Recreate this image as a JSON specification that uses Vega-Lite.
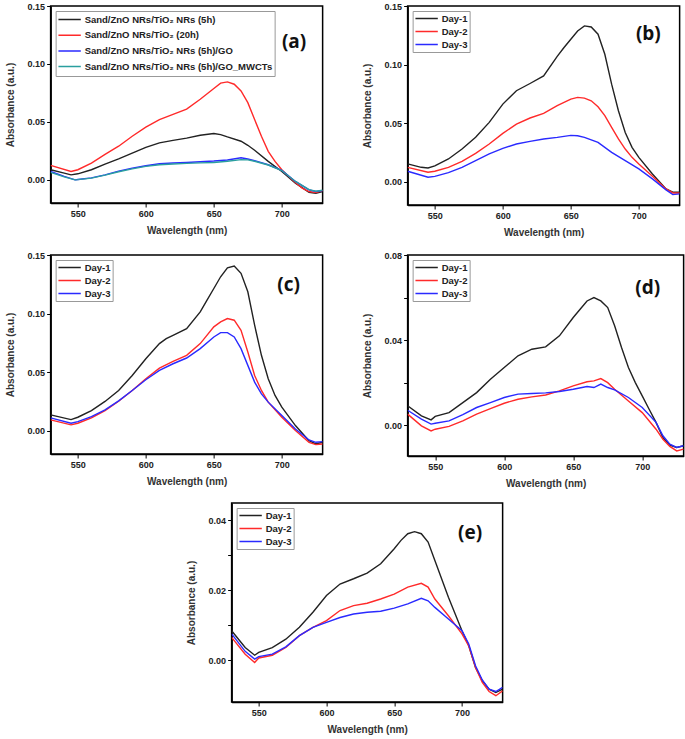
{
  "$schema": "https://vega.github.io/schema/vega-lite/v6.json",
  "padding": {"left": 3.5, "top": 1, "right": 0, "bottom": 0},
  "background": "white",
  "config": {
    "view": {"stroke": "black", "strokeWidth": 1.5},
    "axis": {"grid": false, "domainColor": "black", "domainWidth": 1.5, "tickColor": "black", "tickSize": 4, "labelPadding": 2, "labelFont": "Liberation Sans", "labelFontWeight": "bold", "labelFontSize": 9, "labelColor": "#222", "titleFont": "Liberation Sans", "titleFontWeight": "bold", "titleFontSize": 10, "titleColor": "#333", "labelOverlap": false},
    "axisX": {"titlePadding": 7},
    "axisY": {"titlePadding": 12},
    "legend": {"orient": "top-left", "offset": 5, "strokeColor": "#999", "fillColor": "white", "padding": 2, "labelFont": "Liberation Sans", "labelFontWeight": "bold", "labelColor": "#222", "labelLimit": 400, "symbolType": "stroke", "symbolSize": 500, "symbolStrokeWidth": 1.5, "labelOffset": 3}
  },
  "datasets": {
    "a": [
      {"w":530,"v":0.0087,"s":"Sand/ZnO NRs/TiO₂ NRs (5h)"},{"w":540,"v":0.0058,"s":"Sand/ZnO NRs/TiO₂ NRs (5h)"},{"w":545,"v":0.0043,"s":"Sand/ZnO NRs/TiO₂ NRs (5h)"},{"w":550,"v":0.0052,"s":"Sand/ZnO NRs/TiO₂ NRs (5h)"},{"w":560,"v":0.0087,"s":"Sand/ZnO NRs/TiO₂ NRs (5h)"},{"w":570,"v":0.0136,"s":"Sand/ZnO NRs/TiO₂ NRs (5h)"},{"w":580,"v":0.018,"s":"Sand/ZnO NRs/TiO₂ NRs (5h)"},{"w":590,"v":0.023,"s":"Sand/ZnO NRs/TiO₂ NRs (5h)"},{"w":600,"v":0.028,"s":"Sand/ZnO NRs/TiO₂ NRs (5h)"},{"w":610,"v":0.0319,"s":"Sand/ZnO NRs/TiO₂ NRs (5h)"},{"w":620,"v":0.034,"s":"Sand/ZnO NRs/TiO₂ NRs (5h)"},{"w":630,"v":0.036,"s":"Sand/ZnO NRs/TiO₂ NRs (5h)"},{"w":640,"v":0.0385,"s":"Sand/ZnO NRs/TiO₂ NRs (5h)"},{"w":650,"v":0.04,"s":"Sand/ZnO NRs/TiO₂ NRs (5h)"},{"w":655,"v":0.039,"s":"Sand/ZnO NRs/TiO₂ NRs (5h)"},{"w":660,"v":0.037,"s":"Sand/ZnO NRs/TiO₂ NRs (5h)"},{"w":670,"v":0.0333,"s":"Sand/ZnO NRs/TiO₂ NRs (5h)"},{"w":675,"v":0.0298,"s":"Sand/ZnO NRs/TiO₂ NRs (5h)"},{"w":680,"v":0.0255,"s":"Sand/ZnO NRs/TiO₂ NRs (5h)"},{"w":690,"v":0.0159,"s":"Sand/ZnO NRs/TiO₂ NRs (5h)"},{"w":700,"v":0.0072,"s":"Sand/ZnO NRs/TiO₂ NRs (5h)"},{"w":710,"v":-0.0029,"s":"Sand/ZnO NRs/TiO₂ NRs (5h)"},{"w":720,"v":-0.0107,"s":"Sand/ZnO NRs/TiO₂ NRs (5h)"},{"w":725,"v":-0.0116,"s":"Sand/ZnO NRs/TiO₂ NRs (5h)"},{"w":730,"v":-0.0101,"s":"Sand/ZnO NRs/TiO₂ NRs (5h)"},
      {"w":530,"v":0.0125,"s":"Sand/ZnO NRs/TiO₂ (20h)"},{"w":545,"v":0.0072,"s":"Sand/ZnO NRs/TiO₂ (20h)"},{"w":550,"v":0.0087,"s":"Sand/ZnO NRs/TiO₂ (20h)"},{"w":560,"v":0.0145,"s":"Sand/ZnO NRs/TiO₂ (20h)"},{"w":570,"v":0.022,"s":"Sand/ZnO NRs/TiO₂ (20h)"},{"w":580,"v":0.029,"s":"Sand/ZnO NRs/TiO₂ (20h)"},{"w":590,"v":0.0376,"s":"Sand/ZnO NRs/TiO₂ (20h)"},{"w":600,"v":0.0455,"s":"Sand/ZnO NRs/TiO₂ (20h)"},{"w":610,"v":0.052,"s":"Sand/ZnO NRs/TiO₂ (20h)"},{"w":620,"v":0.0565,"s":"Sand/ZnO NRs/TiO₂ (20h)"},{"w":630,"v":0.061,"s":"Sand/ZnO NRs/TiO₂ (20h)"},{"w":640,"v":0.0695,"s":"Sand/ZnO NRs/TiO₂ (20h)"},{"w":650,"v":0.0788,"s":"Sand/ZnO NRs/TiO₂ (20h)"},{"w":655,"v":0.0834,"s":"Sand/ZnO NRs/TiO₂ (20h)"},{"w":660,"v":0.0845,"s":"Sand/ZnO NRs/TiO₂ (20h)"},{"w":665,"v":0.0825,"s":"Sand/ZnO NRs/TiO₂ (20h)"},{"w":670,"v":0.0767,"s":"Sand/ZnO NRs/TiO₂ (20h)"},{"w":675,"v":0.0666,"s":"Sand/ZnO NRs/TiO₂ (20h)"},{"w":680,"v":0.052,"s":"Sand/ZnO NRs/TiO₂ (20h)"},{"w":685,"v":0.0376,"s":"Sand/ZnO NRs/TiO₂ (20h)"},{"w":690,"v":0.0246,"s":"Sand/ZnO NRs/TiO₂ (20h)"},{"w":695,"v":0.0159,"s":"Sand/ZnO NRs/TiO₂ (20h)"},{"w":700,"v":0.0087,"s":"Sand/ZnO NRs/TiO₂ (20h)"},{"w":705,"v":0.003,"s":"Sand/ZnO NRs/TiO₂ (20h)"},{"w":710,"v":-0.0023,"s":"Sand/ZnO NRs/TiO₂ (20h)"},{"w":715,"v":-0.0072,"s":"Sand/ZnO NRs/TiO₂ (20h)"},{"w":720,"v":-0.0101,"s":"Sand/ZnO NRs/TiO₂ (20h)"},{"w":725,"v":-0.011,"s":"Sand/ZnO NRs/TiO₂ (20h)"},{"w":730,"v":-0.0093,"s":"Sand/ZnO NRs/TiO₂ (20h)"},
      {"w":530,"v":0.0072,"s":"Sand/ZnO NRs/TiO₂ NRs (5h)/GO"},{"w":540,"v":0.003,"s":"Sand/ZnO NRs/TiO₂ NRs (5h)/GO"},{"w":548,"v":0.0,"s":"Sand/ZnO NRs/TiO₂ NRs (5h)/GO"},{"w":550,"v":0.0003,"s":"Sand/ZnO NRs/TiO₂ NRs (5h)/GO"},{"w":560,"v":0.0017,"s":"Sand/ZnO NRs/TiO₂ NRs (5h)/GO"},{"w":570,"v":0.0043,"s":"Sand/ZnO NRs/TiO₂ NRs (5h)/GO"},{"w":580,"v":0.0075,"s":"Sand/ZnO NRs/TiO₂ NRs (5h)/GO"},{"w":590,"v":0.0101,"s":"Sand/ZnO NRs/TiO₂ NRs (5h)/GO"},{"w":600,"v":0.0122,"s":"Sand/ZnO NRs/TiO₂ NRs (5h)/GO"},{"w":610,"v":0.0139,"s":"Sand/ZnO NRs/TiO₂ NRs (5h)/GO"},{"w":620,"v":0.0145,"s":"Sand/ZnO NRs/TiO₂ NRs (5h)/GO"},{"w":630,"v":0.015,"s":"Sand/ZnO NRs/TiO₂ NRs (5h)/GO"},{"w":640,"v":0.0156,"s":"Sand/ZnO NRs/TiO₂ NRs (5h)/GO"},{"w":650,"v":0.0162,"s":"Sand/ZnO NRs/TiO₂ NRs (5h)/GO"},{"w":660,"v":0.0171,"s":"Sand/ZnO NRs/TiO₂ NRs (5h)/GO"},{"w":670,"v":0.019,"s":"Sand/ZnO NRs/TiO₂ NRs (5h)/GO"},{"w":675,"v":0.018,"s":"Sand/ZnO NRs/TiO₂ NRs (5h)/GO"},{"w":680,"v":0.0165,"s":"Sand/ZnO NRs/TiO₂ NRs (5h)/GO"},{"w":690,"v":0.013,"s":"Sand/ZnO NRs/TiO₂ NRs (5h)/GO"},{"w":700,"v":0.0081,"s":"Sand/ZnO NRs/TiO₂ NRs (5h)/GO"},{"w":710,"v":-0.0014,"s":"Sand/ZnO NRs/TiO₂ NRs (5h)/GO"},{"w":720,"v":-0.0087,"s":"Sand/ZnO NRs/TiO₂ NRs (5h)/GO"},{"w":725,"v":-0.0101,"s":"Sand/ZnO NRs/TiO₂ NRs (5h)/GO"},{"w":730,"v":-0.0093,"s":"Sand/ZnO NRs/TiO₂ NRs (5h)/GO"},
      {"w":530,"v":0.0064,"s":"Sand/ZnO NRs/TiO₂ NRs (5h)/GO_MWCTs"},{"w":540,"v":0.0025,"s":"Sand/ZnO NRs/TiO₂ NRs (5h)/GO_MWCTs"},{"w":548,"v":0.0,"s":"Sand/ZnO NRs/TiO₂ NRs (5h)/GO_MWCTs"},{"w":550,"v":0.0002,"s":"Sand/ZnO NRs/TiO₂ NRs (5h)/GO_MWCTs"},{"w":560,"v":0.0015,"s":"Sand/ZnO NRs/TiO₂ NRs (5h)/GO_MWCTs"},{"w":570,"v":0.004,"s":"Sand/ZnO NRs/TiO₂ NRs (5h)/GO_MWCTs"},{"w":580,"v":0.007,"s":"Sand/ZnO NRs/TiO₂ NRs (5h)/GO_MWCTs"},{"w":590,"v":0.0095,"s":"Sand/ZnO NRs/TiO₂ NRs (5h)/GO_MWCTs"},{"w":600,"v":0.0116,"s":"Sand/ZnO NRs/TiO₂ NRs (5h)/GO_MWCTs"},{"w":610,"v":0.013,"s":"Sand/ZnO NRs/TiO₂ NRs (5h)/GO_MWCTs"},{"w":620,"v":0.0137,"s":"Sand/ZnO NRs/TiO₂ NRs (5h)/GO_MWCTs"},{"w":630,"v":0.0142,"s":"Sand/ZnO NRs/TiO₂ NRs (5h)/GO_MWCTs"},{"w":640,"v":0.0146,"s":"Sand/ZnO NRs/TiO₂ NRs (5h)/GO_MWCTs"},{"w":650,"v":0.015,"s":"Sand/ZnO NRs/TiO₂ NRs (5h)/GO_MWCTs"},{"w":660,"v":0.016,"s":"Sand/ZnO NRs/TiO₂ NRs (5h)/GO_MWCTs"},{"w":670,"v":0.0174,"s":"Sand/ZnO NRs/TiO₂ NRs (5h)/GO_MWCTs"},{"w":675,"v":0.0172,"s":"Sand/ZnO NRs/TiO₂ NRs (5h)/GO_MWCTs"},{"w":680,"v":0.016,"s":"Sand/ZnO NRs/TiO₂ NRs (5h)/GO_MWCTs"},{"w":690,"v":0.0128,"s":"Sand/ZnO NRs/TiO₂ NRs (5h)/GO_MWCTs"},{"w":700,"v":0.008,"s":"Sand/ZnO NRs/TiO₂ NRs (5h)/GO_MWCTs"},{"w":710,"v":-0.0014,"s":"Sand/ZnO NRs/TiO₂ NRs (5h)/GO_MWCTs"},{"w":720,"v":-0.0085,"s":"Sand/ZnO NRs/TiO₂ NRs (5h)/GO_MWCTs"},{"w":725,"v":-0.0098,"s":"Sand/ZnO NRs/TiO₂ NRs (5h)/GO_MWCTs"},{"w":730,"v":-0.009,"s":"Sand/ZnO NRs/TiO₂ NRs (5h)/GO_MWCTs"}
    ],
    "b": [
      {"w":530,"v":0.0151,"s":"Day-1"},{"w":540,"v":0.0122,"s":"Day-1"},{"w":545,"v":0.0116,"s":"Day-1"},{"w":550,"v":0.0134,"s":"Day-1"},{"w":560,"v":0.0193,"s":"Day-1"},{"w":570,"v":0.0278,"s":"Day-1"},{"w":580,"v":0.0378,"s":"Day-1"},{"w":590,"v":0.0506,"s":"Day-1"},{"w":600,"v":0.0662,"s":"Day-1"},{"w":610,"v":0.0776,"s":"Day-1"},{"w":620,"v":0.0838,"s":"Day-1"},{"w":630,"v":0.0903,"s":"Day-1"},{"w":640,"v":0.107,"s":"Day-1"},{"w":645,"v":0.1145,"s":"Day-1"},{"w":650,"v":0.1216,"s":"Day-1"},{"w":655,"v":0.1287,"s":"Day-1"},{"w":660,"v":0.133,"s":"Day-1"},{"w":665,"v":0.1321,"s":"Day-1"},{"w":670,"v":0.1259,"s":"Day-1"},{"w":675,"v":0.1088,"s":"Day-1"},{"w":680,"v":0.0832,"s":"Day-1"},{"w":685,"v":0.0605,"s":"Day-1"},{"w":690,"v":0.042,"s":"Day-1"},{"w":695,"v":0.0293,"s":"Day-1"},{"w":700,"v":0.0207,"s":"Day-1"},{"w":710,"v":0.0065,"s":"Day-1"},{"w":720,"v":-0.0063,"s":"Day-1"},{"w":725,"v":-0.0091,"s":"Day-1"},{"w":730,"v":-0.0091,"s":"Day-1"},
      {"w":530,"v":0.0122,"s":"Day-2"},{"w":545,"v":0.008,"s":"Day-2"},{"w":550,"v":0.0088,"s":"Day-2"},{"w":560,"v":0.0122,"s":"Day-2"},{"w":570,"v":0.0173,"s":"Day-2"},{"w":580,"v":0.0241,"s":"Day-2"},{"w":590,"v":0.0321,"s":"Day-2"},{"w":600,"v":0.0412,"s":"Day-2"},{"w":610,"v":0.0491,"s":"Day-2"},{"w":620,"v":0.0543,"s":"Day-2"},{"w":630,"v":0.0582,"s":"Day-2"},{"w":640,"v":0.0648,"s":"Day-2"},{"w":650,"v":0.0705,"s":"Day-2"},{"w":655,"v":0.0719,"s":"Day-2"},{"w":660,"v":0.0713,"s":"Day-2"},{"w":665,"v":0.069,"s":"Day-2"},{"w":670,"v":0.0639,"s":"Day-2"},{"w":675,"v":0.0563,"s":"Day-2"},{"w":680,"v":0.0463,"s":"Day-2"},{"w":685,"v":0.0364,"s":"Day-2"},{"w":690,"v":0.0278,"s":"Day-2"},{"w":695,"v":0.0207,"s":"Day-2"},{"w":700,"v":0.0151,"s":"Day-2"},{"w":710,"v":0.0045,"s":"Day-2"},{"w":720,"v":-0.0063,"s":"Day-2"},{"w":725,"v":-0.0097,"s":"Day-2"},{"w":730,"v":-0.0097,"s":"Day-2"},
      {"w":530,"v":0.0088,"s":"Day-3"},{"w":545,"v":0.0037,"s":"Day-3"},{"w":550,"v":0.0045,"s":"Day-3"},{"w":560,"v":0.0077,"s":"Day-3"},{"w":570,"v":0.0122,"s":"Day-3"},{"w":580,"v":0.0179,"s":"Day-3"},{"w":590,"v":0.0236,"s":"Day-3"},{"w":600,"v":0.0284,"s":"Day-3"},{"w":610,"v":0.0321,"s":"Day-3"},{"w":620,"v":0.0344,"s":"Day-3"},{"w":630,"v":0.0364,"s":"Day-3"},{"w":640,"v":0.0378,"s":"Day-3"},{"w":650,"v":0.0395,"s":"Day-3"},{"w":655,"v":0.0392,"s":"Day-3"},{"w":660,"v":0.0378,"s":"Day-3"},{"w":670,"v":0.0335,"s":"Day-3"},{"w":680,"v":0.025,"s":"Day-3"},{"w":690,"v":0.0179,"s":"Day-3"},{"w":700,"v":0.0108,"s":"Day-3"},{"w":710,"v":0.0023,"s":"Day-3"},{"w":720,"v":-0.0071,"s":"Day-3"},{"w":725,"v":-0.0111,"s":"Day-3"},{"w":730,"v":-0.0105,"s":"Day-3"}
    ],
    "c": [
      {"w":530,"v":0.0134,"s":"Day-1"},{"w":545,"v":0.0094,"s":"Day-1"},{"w":550,"v":0.0114,"s":"Day-1"},{"w":560,"v":0.0171,"s":"Day-1"},{"w":570,"v":0.0249,"s":"Day-1"},{"w":580,"v":0.0343,"s":"Day-1"},{"w":590,"v":0.0471,"s":"Day-1"},{"w":600,"v":0.0614,"s":"Day-1"},{"w":610,"v":0.0743,"s":"Day-1"},{"w":615,"v":0.0786,"s":"Day-1"},{"w":620,"v":0.0814,"s":"Day-1"},{"w":630,"v":0.0871,"s":"Day-1"},{"w":640,"v":0.1014,"s":"Day-1"},{"w":645,"v":0.1114,"s":"Day-1"},{"w":650,"v":0.1214,"s":"Day-1"},{"w":655,"v":0.1314,"s":"Day-1"},{"w":660,"v":0.1391,"s":"Day-1"},{"w":665,"v":0.1406,"s":"Day-1"},{"w":670,"v":0.1343,"s":"Day-1"},{"w":675,"v":0.1186,"s":"Day-1"},{"w":680,"v":0.09,"s":"Day-1"},{"w":685,"v":0.0643,"s":"Day-1"},{"w":690,"v":0.0443,"s":"Day-1"},{"w":695,"v":0.03,"s":"Day-1"},{"w":700,"v":0.02,"s":"Day-1"},{"w":710,"v":0.0043,"s":"Day-1"},{"w":720,"v":-0.0086,"s":"Day-1"},{"w":725,"v":-0.0114,"s":"Day-1"},{"w":730,"v":-0.01,"s":"Day-1"},
      {"w":530,"v":0.0091,"s":"Day-2"},{"w":545,"v":0.0049,"s":"Day-2"},{"w":550,"v":0.0063,"s":"Day-2"},{"w":560,"v":0.0109,"s":"Day-2"},{"w":570,"v":0.0171,"s":"Day-2"},{"w":580,"v":0.0251,"s":"Day-2"},{"w":590,"v":0.0343,"s":"Day-2"},{"w":600,"v":0.0443,"s":"Day-2"},{"w":610,"v":0.0534,"s":"Day-2"},{"w":620,"v":0.0591,"s":"Day-2"},{"w":630,"v":0.0643,"s":"Day-2"},{"w":640,"v":0.0743,"s":"Day-2"},{"w":650,"v":0.0886,"s":"Day-2"},{"w":655,"v":0.0929,"s":"Day-2"},{"w":660,"v":0.0957,"s":"Day-2"},{"w":665,"v":0.0943,"s":"Day-2"},{"w":670,"v":0.0857,"s":"Day-2"},{"w":675,"v":0.0671,"s":"Day-2"},{"w":680,"v":0.0471,"s":"Day-2"},{"w":685,"v":0.0343,"s":"Day-2"},{"w":690,"v":0.0243,"s":"Day-2"},{"w":700,"v":0.0114,"s":"Day-2"},{"w":710,"v":0.0,"s":"Day-2"},{"w":720,"v":-0.01,"s":"Day-2"},{"w":725,"v":-0.012,"s":"Day-2"},{"w":730,"v":-0.0114,"s":"Day-2"},
      {"w":530,"v":0.0109,"s":"Day-3"},{"w":545,"v":0.0063,"s":"Day-3"},{"w":550,"v":0.0077,"s":"Day-3"},{"w":560,"v":0.012,"s":"Day-3"},{"w":570,"v":0.0177,"s":"Day-3"},{"w":580,"v":0.0254,"s":"Day-3"},{"w":590,"v":0.0343,"s":"Day-3"},{"w":600,"v":0.0434,"s":"Day-3"},{"w":610,"v":0.0514,"s":"Day-3"},{"w":620,"v":0.0571,"s":"Day-3"},{"w":630,"v":0.062,"s":"Day-3"},{"w":640,"v":0.07,"s":"Day-3"},{"w":650,"v":0.08,"s":"Day-3"},{"w":655,"v":0.0837,"s":"Day-3"},{"w":660,"v":0.0837,"s":"Day-3"},{"w":665,"v":0.08,"s":"Day-3"},{"w":670,"v":0.07,"s":"Day-3"},{"w":675,"v":0.0557,"s":"Day-3"},{"w":680,"v":0.0414,"s":"Day-3"},{"w":685,"v":0.0314,"s":"Day-3"},{"w":690,"v":0.0243,"s":"Day-3"},{"w":700,"v":0.0129,"s":"Day-3"},{"w":710,"v":0.0014,"s":"Day-3"},{"w":720,"v":-0.008,"s":"Day-3"},{"w":725,"v":-0.01,"s":"Day-3"},{"w":730,"v":-0.0094,"s":"Day-3"}
    ],
    "d": [
      {"w":530,"v":0.0091,"s":"Day-1"},{"w":540,"v":0.0044,"s":"Day-1"},{"w":547,"v":0.0025,"s":"Day-1"},{"w":550,"v":0.0041,"s":"Day-1"},{"w":560,"v":0.0059,"s":"Day-1"},{"w":570,"v":0.0106,"s":"Day-1"},{"w":580,"v":0.0153,"s":"Day-1"},{"w":590,"v":0.0216,"s":"Day-1"},{"w":600,"v":0.0271,"s":"Day-1"},{"w":610,"v":0.0326,"s":"Day-1"},{"w":620,"v":0.0357,"s":"Day-1"},{"w":630,"v":0.0368,"s":"Day-1"},{"w":640,"v":0.042,"s":"Day-1"},{"w":650,"v":0.0506,"s":"Day-1"},{"w":655,"v":0.0545,"s":"Day-1"},{"w":660,"v":0.0584,"s":"Day-1"},{"w":665,"v":0.06,"s":"Day-1"},{"w":670,"v":0.0584,"s":"Day-1"},{"w":675,"v":0.0553,"s":"Day-1"},{"w":680,"v":0.0467,"s":"Day-1"},{"w":685,"v":0.0365,"s":"Day-1"},{"w":690,"v":0.0271,"s":"Day-1"},{"w":695,"v":0.02,"s":"Day-1"},{"w":700,"v":0.0138,"s":"Day-1"},{"w":705,"v":0.0075,"s":"Day-1"},{"w":710,"v":0.0013,"s":"Day-1"},{"w":715,"v":-0.0058,"s":"Day-1"},{"w":720,"v":-0.0094,"s":"Day-1"},{"w":725,"v":-0.0105,"s":"Day-1"},{"w":730,"v":-0.0097,"s":"Day-1"},
      {"w":530,"v":0.0052,"s":"Day-2"},{"w":540,"v":-0.0003,"s":"Day-2"},{"w":547,"v":-0.0027,"s":"Day-2"},{"w":550,"v":-0.0019,"s":"Day-2"},{"w":560,"v":-0.0006,"s":"Day-2"},{"w":570,"v":0.002,"s":"Day-2"},{"w":580,"v":0.0052,"s":"Day-2"},{"w":590,"v":0.0078,"s":"Day-2"},{"w":600,"v":0.0103,"s":"Day-2"},{"w":610,"v":0.0122,"s":"Day-2"},{"w":620,"v":0.0133,"s":"Day-2"},{"w":630,"v":0.0142,"s":"Day-2"},{"w":640,"v":0.0161,"s":"Day-2"},{"w":650,"v":0.0185,"s":"Day-2"},{"w":660,"v":0.0204,"s":"Day-2"},{"w":665,"v":0.0208,"s":"Day-2"},{"w":670,"v":0.0219,"s":"Day-2"},{"w":675,"v":0.02,"s":"Day-2"},{"w":680,"v":0.0169,"s":"Day-2"},{"w":690,"v":0.0114,"s":"Day-2"},{"w":700,"v":0.0059,"s":"Day-2"},{"w":710,"v":-0.0019,"s":"Day-2"},{"w":715,"v":-0.0066,"s":"Day-2"},{"w":720,"v":-0.01,"s":"Day-2"},{"w":725,"v":-0.0121,"s":"Day-2"},{"w":730,"v":-0.0113,"s":"Day-2"},
      {"w":530,"v":0.007,"s":"Day-3"},{"w":540,"v":0.0028,"s":"Day-3"},{"w":547,"v":0.0005,"s":"Day-3"},{"w":550,"v":0.0009,"s":"Day-3"},{"w":560,"v":0.002,"s":"Day-3"},{"w":570,"v":0.0049,"s":"Day-3"},{"w":580,"v":0.0083,"s":"Day-3"},{"w":590,"v":0.0106,"s":"Day-3"},{"w":600,"v":0.013,"s":"Day-3"},{"w":610,"v":0.0146,"s":"Day-3"},{"w":620,"v":0.0149,"s":"Day-3"},{"w":630,"v":0.0152,"s":"Day-3"},{"w":640,"v":0.0158,"s":"Day-3"},{"w":650,"v":0.0169,"s":"Day-3"},{"w":660,"v":0.0182,"s":"Day-3"},{"w":665,"v":0.0177,"s":"Day-3"},{"w":670,"v":0.0193,"s":"Day-3"},{"w":675,"v":0.0177,"s":"Day-3"},{"w":680,"v":0.0166,"s":"Day-3"},{"w":690,"v":0.013,"s":"Day-3"},{"w":700,"v":0.0083,"s":"Day-3"},{"w":710,"v":0.0013,"s":"Day-3"},{"w":715,"v":-0.005,"s":"Day-3"},{"w":720,"v":-0.0089,"s":"Day-3"},{"w":725,"v":-0.0105,"s":"Day-3"},{"w":730,"v":-0.0097,"s":"Day-3"}
    ],
    "e": [
      {"w":530,"v":0.0084,"s":"Day-1"},{"w":540,"v":0.0036,"s":"Day-1"},{"w":547,"v":0.0014,"s":"Day-1"},{"w":550,"v":0.0022,"s":"Day-1"},{"w":560,"v":0.0036,"s":"Day-1"},{"w":570,"v":0.006,"s":"Day-1"},{"w":580,"v":0.0094,"s":"Day-1"},{"w":590,"v":0.0137,"s":"Day-1"},{"w":600,"v":0.0185,"s":"Day-1"},{"w":610,"v":0.0218,"s":"Day-1"},{"w":620,"v":0.0233,"s":"Day-1"},{"w":630,"v":0.0249,"s":"Day-1"},{"w":640,"v":0.0276,"s":"Day-1"},{"w":650,"v":0.0319,"s":"Day-1"},{"w":655,"v":0.0343,"s":"Day-1"},{"w":660,"v":0.0362,"s":"Day-1"},{"w":665,"v":0.0368,"s":"Day-1"},{"w":670,"v":0.0362,"s":"Day-1"},{"w":675,"v":0.0338,"s":"Day-1"},{"w":680,"v":0.0285,"s":"Day-1"},{"w":690,"v":0.018,"s":"Day-1"},{"w":700,"v":0.0084,"s":"Day-1"},{"w":705,"v":0.0041,"s":"Day-1"},{"w":710,"v":-0.0021,"s":"Day-1"},{"w":715,"v":-0.0059,"s":"Day-1"},{"w":720,"v":-0.0083,"s":"Day-1"},{"w":725,"v":-0.0093,"s":"Day-1"},{"w":730,"v":-0.0083,"s":"Day-1"},
      {"w":530,"v":0.0065,"s":"Day-2"},{"w":540,"v":0.0017,"s":"Day-2"},{"w":547,"v":-0.0007,"s":"Day-2"},{"w":550,"v":0.0006,"s":"Day-2"},{"w":560,"v":0.0014,"s":"Day-2"},{"w":570,"v":0.0036,"s":"Day-2"},{"w":580,"v":0.007,"s":"Day-2"},{"w":590,"v":0.0094,"s":"Day-2"},{"w":600,"v":0.0113,"s":"Day-2"},{"w":610,"v":0.0142,"s":"Day-2"},{"w":620,"v":0.0156,"s":"Day-2"},{"w":630,"v":0.0163,"s":"Day-2"},{"w":640,"v":0.0175,"s":"Day-2"},{"w":650,"v":0.0189,"s":"Day-2"},{"w":660,"v":0.0209,"s":"Day-2"},{"w":670,"v":0.022,"s":"Day-2"},{"w":675,"v":0.0209,"s":"Day-2"},{"w":680,"v":0.0175,"s":"Day-2"},{"w":690,"v":0.0127,"s":"Day-2"},{"w":700,"v":0.0075,"s":"Day-2"},{"w":705,"v":0.0041,"s":"Day-2"},{"w":710,"v":-0.0021,"s":"Day-2"},{"w":715,"v":-0.0064,"s":"Day-2"},{"w":720,"v":-0.009,"s":"Day-2"},{"w":725,"v":-0.0102,"s":"Day-2"},{"w":730,"v":-0.0088,"s":"Day-2"},
      {"w":530,"v":0.0075,"s":"Day-3"},{"w":540,"v":0.0025,"s":"Day-3"},{"w":547,"v":0.0003,"s":"Day-3"},{"w":550,"v":0.001,"s":"Day-3"},{"w":560,"v":0.0017,"s":"Day-3"},{"w":570,"v":0.0038,"s":"Day-3"},{"w":580,"v":0.007,"s":"Day-3"},{"w":590,"v":0.0094,"s":"Day-3"},{"w":600,"v":0.0108,"s":"Day-3"},{"w":610,"v":0.0122,"s":"Day-3"},{"w":620,"v":0.0132,"s":"Day-3"},{"w":630,"v":0.0137,"s":"Day-3"},{"w":640,"v":0.014,"s":"Day-3"},{"w":650,"v":0.0149,"s":"Day-3"},{"w":660,"v":0.0161,"s":"Day-3"},{"w":670,"v":0.0177,"s":"Day-3"},{"w":675,"v":0.017,"s":"Day-3"},{"w":680,"v":0.0151,"s":"Day-3"},{"w":690,"v":0.0118,"s":"Day-3"},{"w":700,"v":0.0084,"s":"Day-3"},{"w":705,"v":0.0046,"s":"Day-3"},{"w":710,"v":-0.0016,"s":"Day-3"},{"w":715,"v":-0.0057,"s":"Day-3"},{"w":720,"v":-0.0083,"s":"Day-3"},{"w":725,"v":-0.009,"s":"Day-3"},{"w":730,"v":-0.0078,"s":"Day-3"}
    ]
  },
  "vconcat": [
    {
      "vconcat": [
        {
          "hconcat": [
            {
              "width": 272, "height": 197,
              "layer": [
                {
                  "data": {"name": "a"},
                  "mark": {"type": "line", "strokeWidth": 1.4, "clip": true},
                  "encoding": {
                    "x": {"field": "w", "type": "quantitative", "scale": {"domain": [530, 730], "nice": false, "zero": false}, "axis": {"title": "Wavelength (nm)", "values": [550, 575, 600, 625, 650, 675, 700, 725], "labelExpr": "indexof(['550','600','650','700'], datum.label) >= 0 ? datum.label : ''"}},
                    "y": {"field": "v", "type": "quantitative", "scale": {"domain": [-0.02, 0.15], "nice": false, "zero": false}, "axis": {"title": "Absorbance (a.u.)", "values": [0, 0.025, 0.05, 0.075, 0.1, 0.125, 0.15], "format": ".3f", "labelExpr": "indexof(['0.000','0.050','0.100','0.150'], datum.label) >= 0 ? format(datum.value, '.2f') : ''"}},
                    "color": {"field": "s", "type": "nominal", "scale": {"domain": ["Sand/ZnO NRs/TiO₂ NRs (5h)", "Sand/ZnO NRs/TiO₂ (20h)", "Sand/ZnO NRs/TiO₂ NRs (5h)/GO", "Sand/ZnO NRs/TiO₂ NRs (5h)/GO_MWCTs"], "range": ["#222222", "#ff2a2a", "#2a2aff", "#2a9f9f"]}, "legend": {"title": null, "labelFontSize": 9.5, "clipHeight": 13, "rowPadding": 2.7}}
                  }
                },
                {
                  "data": {"values": [{"lab": "(a)"}]},
                  "mark": {"type": "text", "font": "Open Sans", "fontWeight": "bold", "fontSize": 19, "color": "#111"},
                  "encoding": {"x": {"datum": 709}, "y": {"datum": 0.119}, "text": {"field": "lab"}}
                }
              ]
            },
            {
              "width": 272, "height": 199,
              "layer": [
                {
                  "data": {"name": "b"},
                  "mark": {"type": "line", "strokeWidth": 1.4, "clip": true},
                  "encoding": {
                    "x": {"field": "w", "type": "quantitative", "scale": {"domain": [530, 730], "nice": false, "zero": false}, "axis": {"title": "Wavelength (nm)", "values": [550, 575, 600, 625, 650, 675, 700, 725], "labelExpr": "indexof(['550','600','650','700'], datum.label) >= 0 ? datum.label : ''"}},
                    "y": {"field": "v", "type": "quantitative", "scale": {"domain": [-0.02, 0.15], "nice": false, "zero": false}, "axis": {"title": "Absorbance (a.u.)", "values": [0, 0.025, 0.05, 0.075, 0.1, 0.125, 0.15], "format": ".3f", "labelExpr": "indexof(['0.000','0.050','0.100','0.150'], datum.label) >= 0 ? format(datum.value, '.2f') : ''"}},
                    "color": {"field": "s", "type": "nominal", "scale": {"domain": ["Day-1", "Day-2", "Day-3"], "range": ["#222222", "#ff2a2a", "#2a2aff"]}, "legend": {"title": null, "labelFontSize": 9.5, "clipHeight": 11, "rowPadding": 2}}
                  }
                },
                {
                  "data": {"values": [{"lab": "(b)"}]},
                  "mark": {"type": "text", "font": "Open Sans", "fontWeight": "bold", "fontSize": 19, "color": "#111"},
                  "encoding": {"x": {"datum": 707}, "y": {"datum": 0.126}, "text": {"field": "lab"}}
                }
              ]
            }
          ],
          "spacing": 37,
          "resolve": {"scale": {"color": "independent"}, "legend": {"color": "independent"}}
        },
        {
          "hconcat": [
            {
              "width": 272, "height": 199,
              "layer": [
                {
                  "data": {"name": "c"},
                  "mark": {"type": "line", "strokeWidth": 1.4, "clip": true},
                  "encoding": {
                    "x": {"field": "w", "type": "quantitative", "scale": {"domain": [530, 730], "nice": false, "zero": false}, "axis": {"title": "Wavelength (nm)", "values": [550, 575, 600, 625, 650, 675, 700, 725], "labelExpr": "indexof(['550','600','650','700'], datum.label) >= 0 ? datum.label : ''"}},
                    "y": {"field": "v", "type": "quantitative", "scale": {"domain": [-0.02, 0.15], "nice": false, "zero": false}, "axis": {"title": "Absorbance (a.u.)", "values": [0, 0.025, 0.05, 0.075, 0.1, 0.125, 0.15], "format": ".3f", "labelExpr": "indexof(['0.000','0.050','0.100','0.150'], datum.label) >= 0 ? format(datum.value, '.2f') : ''"}},
                    "color": {"field": "s", "type": "nominal", "scale": {"domain": ["Day-1", "Day-2", "Day-3"], "range": ["#222222", "#ff2a2a", "#2a2aff"]}, "legend": {"title": null, "labelFontSize": 9.5, "clipHeight": 11, "rowPadding": 2}}
                  }
                },
                {
                  "data": {"values": [{"lab": "(c)"}]},
                  "mark": {"type": "text", "font": "Open Sans", "fontWeight": "bold", "fontSize": 19, "color": "#111"},
                  "encoding": {"x": {"datum": 705}, "y": {"datum": 0.124}, "text": {"field": "lab"}}
                }
              ]
            },
            {
              "width": 276, "height": 201,
              "layer": [
                {
                  "data": {"name": "d"},
                  "mark": {"type": "line", "strokeWidth": 1.4, "clip": true},
                  "encoding": {
                    "x": {"field": "w", "type": "quantitative", "scale": {"domain": [530, 730], "nice": false, "zero": false}, "axis": {"title": "Wavelength (nm)", "values": [550, 575, 600, 625, 650, 675, 700, 725], "labelExpr": "indexof(['550','600','650','700'], datum.label) >= 0 ? datum.label : ''"}},
                    "y": {"field": "v", "type": "quantitative", "scale": {"domain": [-0.0145, 0.08], "nice": false, "zero": false}, "axis": {"title": "Absorbance (a.u.)", "values": [0, 0.02, 0.04, 0.06, 0.08], "format": ".2f", "labelExpr": "indexof(['0.00','0.04','0.08'], datum.label) >= 0 ? datum.label : ''"}},
                    "color": {"field": "s", "type": "nominal", "scale": {"domain": ["Day-1", "Day-2", "Day-3"], "range": ["#222222", "#ff2a2a", "#2a2aff"]}, "legend": {"title": null, "labelFontSize": 9.5, "clipHeight": 11, "rowPadding": 2}}
                  }
                },
                {
                  "data": {"values": [{"lab": "(d)"}]},
                  "mark": {"type": "text", "font": "Open Sans", "fontWeight": "bold", "fontSize": 19, "color": "#111"},
                  "encoding": {"x": {"datum": 704}, "y": {"datum": 0.0644}, "text": {"field": "lab"}}
                }
              ]
            }
          ],
          "spacing": 37,
          "resolve": {"scale": {"color": "independent"}, "legend": {"color": "independent"}}
        }
      ],
      "spacing": 12,
      "resolve": {"scale": {"color": "independent"}, "legend": {"color": "independent"}}
    },
    {
      "width": 271, "height": 199,
      "layer": [
        {
          "data": {"name": "e"},
          "mark": {"type": "line", "strokeWidth": 1.4, "clip": true},
          "encoding": {
            "x": {"field": "w", "type": "quantitative", "scale": {"domain": [530, 730], "nice": false, "zero": false}, "axis": {"title": "Wavelength (nm)", "values": [550, 575, 600, 625, 650, 675, 700, 725], "labelExpr": "indexof(['550','600','650','700'], datum.label) >= 0 ? datum.label : ''"}},
            "y": {"field": "v", "type": "quantitative", "scale": {"domain": [-0.012, 0.045], "nice": false, "zero": false}, "axis": {"title": "Absorbance (a.u.)", "values": [0, 0.01, 0.02, 0.03, 0.04], "format": ".2f", "labelExpr": "indexof(['0.00','0.02','0.04'], datum.label) >= 0 ? datum.label : ''"}},
            "color": {"field": "s", "type": "nominal", "scale": {"domain": ["Day-1", "Day-2", "Day-3"], "range": ["#222222", "#ff2a2a", "#2a2aff"]}, "legend": {"title": null, "labelFontSize": 9.5, "clipHeight": 11, "rowPadding": 2}}
          }
        },
        {
          "data": {"values": [{"lab": "(e)"}]},
          "mark": {"type": "text", "font": "Open Sans", "fontWeight": "bold", "fontSize": 19, "color": "#111"},
          "encoding": {"x": {"datum": 706}, "y": {"datum": 0.0364}, "text": {"field": "lab"}}
        }
      ]
    }
  ],
  "spacing": 13,
  "center": true,
  "resolve": {"scale": {"color": "independent"}, "legend": {"color": "independent"}}
}
